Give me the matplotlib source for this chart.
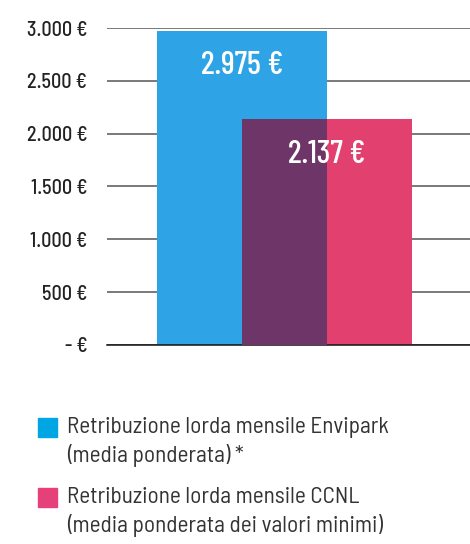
import matplotlib
matplotlib.use('Agg')
import matplotlib.pyplot as plt
from matplotlib.patches import Rectangle

series = ['Retribuzione lorda mensile Envipark\n(media ponderata) *',
          'Retribuzione lorda mensile CCNL\n(media ponderata dei valori minimi)']
values = [2975, 2137]
value_labels = ['2.975 €', '2.137 €']
yticks = [0, 500, 1000, 1500, 2000, 2500, 3000]
ytick_labels = ['- €', '500 €', '1.000 €', '1.500 €', '2.000 €', '2.500 €', '3.000 €']

bar_colors = ['#2ea3e6', '#e2416f']
overlap_color = '#6e3569'
legend_colors = ['#00a6e4', '#e6407a']

plt.rcParams['font.family'] = ['Barlow Condensed', 'DejaVu Sans']
semi = ['Barlow Semi Condensed', 'DejaVu Sans']

fig = plt.figure(figsize=(4.7, 5.44), dpi=100)
ax = fig.add_axes([0.227, 0.366, 0.773, 0.5825])

pos = [0, 0.5]
w = 1.0
ax.bar(pos, values, w, color=bar_colors, zorder=2)
# overlapping part of the two bars
lo = max(p - w / 2 for p in pos)
hi = min(p + w / 2 for p in pos)
ax.bar((lo + hi) / 2, min(values), hi - lo, color=overlap_color, zorder=3)

for p, v, lab in zip(pos, values, value_labels):
    ax.text(p, v - 330, lab, ha='center', va='center', color='white',
            fontsize=23.5, fontweight=500, zorder=4)

ax.set_xlim(-0.794, 1.343)
ax.set_ylim(0, 3000)
ax.set_yticks(yticks)
ax.set_yticklabels(ytick_labels, fontsize=14.5, color='#222', fontweight=500,
                   family=semi)
ax.tick_params(axis='y', length=0, pad=14)
ax.set_xticks([])
ax.yaxis.grid(True, color='#555', linewidth=1.1, zorder=0)
ax.set_axisbelow(True)
for s in ['top', 'right', 'left']:
    ax.spines[s].set_visible(False)
ax.spines['bottom'].set_color('#111')
ax.spines['bottom'].set_linewidth(1.1)

# legend
leg_y = [427, 497]
for c, lab, y in zip(legend_colors, series, leg_y):
    fig.patches.append(Rectangle((38 / 470, 1 - (y + 9.5) / 544), 19 / 470, 19 / 544,
                                 transform=fig.transFigure, color=c))
    fig.text(67 / 470, 1 - (y - 10) / 544, lab, ha='left', va='top',
             fontsize=16.7, color='#333', linespacing=1.33, family=semi)

fig.savefig('out.png', dpi=100)
